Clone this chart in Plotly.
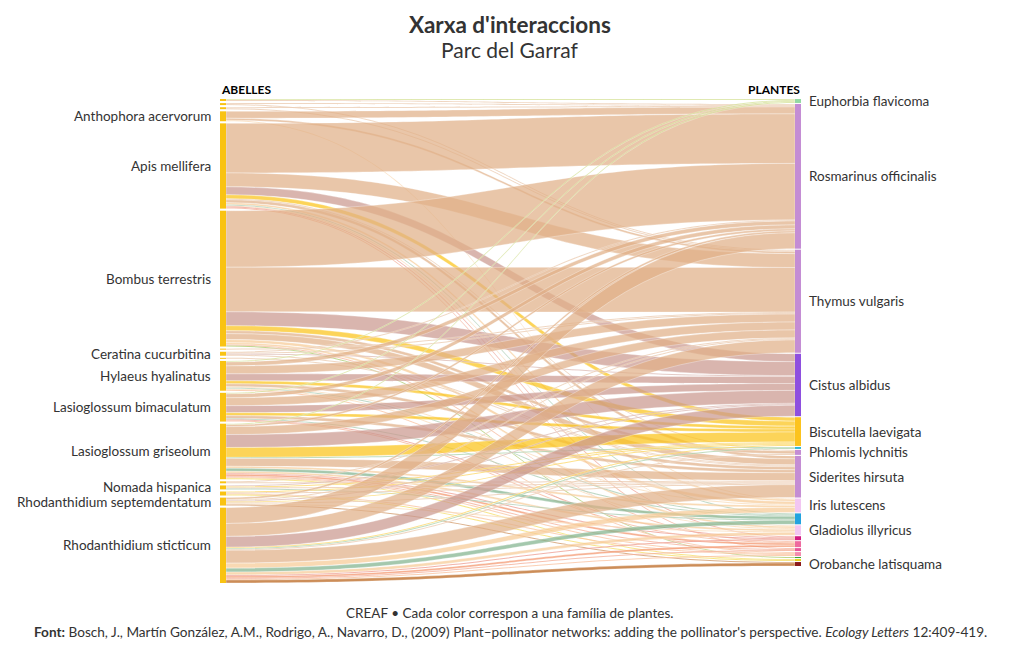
import plotly.graph_objects as go

# ---------------- DATA ----------------
bees = [
    "Andrena flavipes", "Andrena hispania", "Anthidium florentinum",
    "Anthophora acervorum", "Apis mellifera", "Bombus terrestris",
    "Ceratina chalybea", "Ceratina cucurbitina", "Ceratina dallatorreana",
    "Hylaeus hyalinatus", "Lasioglossum bimaculatum", "Lasioglossum griseolum",
    "Megachile pilidens", "Nomada hispanica", "Osmia tricornis",
    "Rhodanthidium septemdentatum", "Rhodanthidium sticticum",
]
bee_labelled = [False, False, False, True, True, True, False, True, False,
                True, True, True, False, True, False, True, True]

plants = [
    "Euphorbia flavicoma", "Rosmarinus officinalis", "Thymus vulgaris",
    "Cistus albidus", "Biscutella laevigata", "Lithodora fruticosa",
    "Phlomis lychnitis", "Siderites hirsuta", "Iris lutescens",
    "Convolvulus lanuginosus", "Gladiolus illyricus", "Dorycnium pentaphyllum",
    "Anthyllis cytisoides", "Coronilla minima", "Hippocrepis ciliata",
    "Ruta angustifolia", "Coris monspeliensis", "Orobanche latisquama",
]
plant_labelled = [True, True, True, True, True, False, True, True, True,
                  False, True, False, False, False, False, False, False, True]
plant_colors = [
    "#93D9A3", "#C48DD4", "#C48DD4", "#8E4FDF", "#FCC31E", "#31B7D6",
    "#C48DD4", "#C48DD4", "#F2C6F2", "#22A3DF", "#F2C6F2", "#D21C82",
    "#EF6A9F", "#E8559A", "#F48AAE", "#2CA02C", "#E8D21A", "#8B1A1A",
]
plant_link_colors = [
    "#9BE0AA", "#CFA3DD", "#CFA3DD", "#A878EA", "#FCC31E", "#31B7D6",
    "#CFA3DD", "#CFA3DD", "#F5D0F5", "#2AA8E8", "#F5D0F5", "#D62A8A",
    "#EF6A9F", "#E8559A", "#F48AAE", "#2CA02C", "#E8D21A", "#8B1A1A",
]
bee_color = "#F9C312"

link_source = (
    ["Andrena flavipes"] * 2 + ["Andrena hispania"] * 2 + ["Anthidium florentinum"] * 2
    + ["Anthophora acervorum"] * 3 + ["Apis mellifera"] * 11 + ["Bombus terrestris"] * 10
    + ["Ceratina chalybea"] * 1 + ["Ceratina cucurbitina"] * 4 + ["Ceratina dallatorreana"] * 1
    + ["Hylaeus hyalinatus"] * 10 + ["Lasioglossum bimaculatum"] * 9
    + ["Lasioglossum griseolum"] * 15 + ["Megachile pilidens"] * 2
    + ["Nomada hispanica"] * 4 + ["Osmia tricornis"] * 4
    + ["Rhodanthidium septemdentatum"] * 7 + ["Rhodanthidium sticticum"] * 15
)
link_target = [
    # Andrena flavipes
    "Euphorbia flavicoma", "Rosmarinus officinalis",
    # Andrena hispania
    "Rosmarinus officinalis", "Thymus vulgaris",
    # Anthidium florentinum
    "Rosmarinus officinalis", "Thymus vulgaris",
    # Anthophora acervorum
    "Rosmarinus officinalis", "Thymus vulgaris", "Iris lutescens",
    # Apis mellifera
    "Rosmarinus officinalis", "Thymus vulgaris", "Cistus albidus", "Biscutella laevigata",
    "Phlomis lychnitis", "Siderites hirsuta", "Iris lutescens", "Convolvulus lanuginosus",
    "Gladiolus illyricus", "Dorycnium pentaphyllum", "Coronilla minima",
    # Bombus terrestris
    "Rosmarinus officinalis", "Thymus vulgaris", "Cistus albidus", "Biscutella laevigata",
    "Phlomis lychnitis", "Siderites hirsuta", "Iris lutescens", "Gladiolus illyricus",
    "Anthyllis cytisoides", "Ruta angustifolia",
    # Ceratina chalybea
    "Thymus vulgaris",
    # Ceratina cucurbitina
    "Rosmarinus officinalis", "Thymus vulgaris", "Cistus albidus", "Siderites hirsuta",
    # Ceratina dallatorreana
    "Siderites hirsuta",
    # Hylaeus hyalinatus
    "Euphorbia flavicoma", "Rosmarinus officinalis", "Thymus vulgaris", "Cistus albidus",
    "Biscutella laevigata", "Siderites hirsuta", "Iris lutescens", "Convolvulus lanuginosus",
    "Gladiolus illyricus", "Hippocrepis ciliata",
    # Lasioglossum bimaculatum
    "Euphorbia flavicoma", "Rosmarinus officinalis", "Thymus vulgaris", "Cistus albidus",
    "Biscutella laevigata", "Siderites hirsuta", "Convolvulus lanuginosus",
    "Dorycnium pentaphyllum", "Anthyllis cytisoides",
    # Lasioglossum griseolum
    "Euphorbia flavicoma", "Rosmarinus officinalis", "Thymus vulgaris", "Cistus albidus",
    "Biscutella laevigata", "Lithodora fruticosa", "Siderites hirsuta", "Iris lutescens",
    "Convolvulus lanuginosus", "Gladiolus illyricus", "Dorycnium pentaphyllum",
    "Anthyllis cytisoides", "Coronilla minima", "Hippocrepis ciliata", "Coris monspeliensis",
    # Megachile pilidens
    "Thymus vulgaris", "Siderites hirsuta",
    # Nomada hispanica
    "Cistus albidus", "Biscutella laevigata", "Siderites hirsuta", "Convolvulus lanuginosus",
    # Osmia tricornis
    "Biscutella laevigata", "Siderites hirsuta", "Hippocrepis ciliata", "Coris monspeliensis",
    # Rhodanthidium septemdentatum
    "Rosmarinus officinalis", "Thymus vulgaris", "Cistus albidus", "Biscutella laevigata",
    "Siderites hirsuta", "Gladiolus illyricus", "Orobanche latisquama",
    # Rhodanthidium sticticum
    "Rosmarinus officinalis", "Thymus vulgaris", "Cistus albidus", "Biscutella laevigata",
    "Lithodora fruticosa", "Phlomis lychnitis", "Siderites hirsuta", "Iris lutescens",
    "Convolvulus lanuginosus", "Gladiolus illyricus", "Dorycnium pentaphyllum",
    "Anthyllis cytisoides", "Coronilla minima", "Hippocrepis ciliata", "Orobanche latisquama",
]
link_value = [
    1, 1,
    1, 1,
    1, 1,
    7, 2, 1,
    50, 14, 8, 4, 1, 3, 2, 1, 1, 1, 1,
    57, 45, 14, 5, 3, 6, 3, 2, 1, 1,
    1,
    1, 1, 1, 1,
    1,
    1, 4, 8, 7, 3, 3, 1, 1, 1, 1,
    1, 4, 8, 7, 3, 3, 1, 1, 1,
    1, 2, 8, 13, 10, 1, 8, 2, 3, 2, 1, 2, 1, 1, 1,
    1, 1,
    1, 1, 1, 1,
    1, 1, 1, 1,
    2, 1, 1, 1, 1, 1, 1,
    16, 13, 11, 1, 1, 1, 13, 5, 4, 3, 1, 2, 1, 1, 3,
]

# ---------------- LAYOUT GEOMETRY ----------------
OFF = 8                      # page body margin offset of the figure div
FIG_W, FIG_H = 1012, 642
M_T, M_B = 99 - OFF, 67
H = FIG_H - M_T - M_B
PAD = 2.0
RIGHT_GAP = 1.0
LEFT_X_PX, RIGHT_X_PX = 223 - OFF, 798 - OFF

bee_tot = [sum(v for s, v in zip(link_source, link_value) if s == b) for b in bees]
plant_tot = [sum(v for t, v in zip(link_target, link_value) if t == p) for p in plants]
ky = min((H - (len(bees) - 1) * PAD) / sum(bee_tot),
         (H - (len(plants) - 1) * PAD) / sum(plant_tot))

left_gap = (H - sum(bee_tot) * ky) / (len(bees) - 1)
bee_centers = []
y = 0.0
for t in bee_tot:
    h = t * ky
    bee_centers.append(y + h / 2)
    y += h + left_gap
plant_centers = []
y = 0.0
for t in plant_tot:
    h = t * ky
    plant_centers.append(y + h / 2)
    y += h + RIGHT_GAP

node_names = bees + plants
node_x = [LEFT_X_PX / FIG_W] * len(bees) + [RIGHT_X_PX / FIG_W] * len(plants)
node_y = [c / H for c in bee_centers] + [c / H for c in plant_centers]
node_colors = [bee_color] * len(bees) + plant_colors


def hex_rgb(h):
    h = h.lstrip("#")
    return tuple(int(h[i:i + 2], 16) for i in (0, 2, 4))


def blend(c1, c2, f, a):
    r1, g1, b1 = hex_rgb(c1)
    r2, g2, b2 = hex_rgb(c2)
    r = round(r1 * (1 - f) + r2 * f)
    g = round(g1 * (1 - f) + g2 * f)
    b = round(b1 * (1 - f) + b2 * f)
    return f"rgba({r},{g},{b},{a})"


src_idx = [bees.index(s) for s in link_source]
tgt_idx = [len(bees) + plants.index(t) for t in link_target]
link_colors = [blend(bee_color, plant_link_colors[plants.index(t)], 0.58, 0.72)
               for t in link_target]

FONT = "Lato, 'Noto Sans', sans-serif"
TXT = "#333333"

fig = go.Figure(go.Sankey(
    arrangement="fixed",
    domain=dict(x=[0, 1], y=[0, 1]),
    node=dict(
        label=[""] * len(node_names),
        customdata=node_names,
        hovertemplate="%{customdata}<extra></extra>",
        x=node_x,
        y=node_y,
        pad=PAD,
        thickness=6,
        color=node_colors,
        line=dict(width=0),
    ),
    link=dict(
        source=src_idx,
        target=tgt_idx,
        value=link_value,
        color=link_colors,
        line=dict(color="rgba(255,255,255,0.8)", width=0.4),
        customdata=[f"{s} → {t}" for s, t in zip(link_source, link_target)],
        hovertemplate="%{customdata}: %{value}<extra></extra>",
    ),
))


def py(pixel):
    return (FIG_H - M_B - (pixel - OFF)) / H


def px(pixel):
    return (pixel - OFF) / FIG_W


annotations = []
for name, show, c in zip(bees, bee_labelled, bee_centers):
    if show:
        annotations.append(dict(x=px(213), y=1 - c / H, xref="paper", yref="paper",
                                text=name, showarrow=False, xanchor="right", yanchor="middle",
                                font=dict(size=13.5, color=TXT, family=FONT)))
for name, show, c in zip(plants, plant_labelled, plant_centers):
    if show:
        annotations.append(dict(x=px(807), y=1 - c / H, xref="paper", yref="paper",
                                text=name, showarrow=False, xanchor="left", yanchor="middle",
                                font=dict(size=13.5, color=TXT, family=FONT)))

annotations += [
    dict(x=px(510), y=py(24), xref="paper", yref="paper", text="<b>Xarxa d'interaccions</b>",
         showarrow=False, xanchor="center", yanchor="middle",
         font=dict(size=22.5, color=TXT, family=FONT)),
    dict(x=px(510), y=py(50), xref="paper", yref="paper", text="Parc del Garraf",
         showarrow=False, xanchor="center", yanchor="middle",
         font=dict(size=21, color=TXT, family=FONT)),
    dict(x=px(219), y=py(90), xref="paper", yref="paper", text="<b>ABELLES</b>",
         showarrow=False, xanchor="left", yanchor="middle",
         font=dict(size=12, color="#000000", family=FONT)),
    dict(x=px(802), y=py(90), xref="paper", yref="paper", text="<b>PLANTES</b>",
         showarrow=False, xanchor="right", yanchor="middle",
         font=dict(size=12, color="#000000", family=FONT)),
    dict(x=px(510), y=py(613), xref="paper", yref="paper",
         text="CREAF • Cada color correspon a una família de plantes.",
         showarrow=False, xanchor="center", yanchor="middle",
         font=dict(size=13.5, color=TXT, family=FONT)),
    dict(x=px(510), y=py(632), xref="paper", yref="paper",
         text="<b>Font:</b> Bosch, J., Martín González, A.M., Rodrigo, A., Navarro, D., (2009) "
              "Plant–pollinator networks: adding the pollinator's perspective. "
              "<i>Ecology Letters</i> 12:409-419.",
         showarrow=False, xanchor="center", yanchor="middle",
         font=dict(size=13.6, color=TXT, family=FONT)),
]

fig.update_layout(
    width=FIG_W, height=FIG_H,
    margin=dict(l=0, r=0, t=M_T, b=M_B),
    paper_bgcolor="white", plot_bgcolor="white",
    font=dict(family=FONT, color=TXT),
    annotations=annotations,
)

fig.write_html("out.html")
